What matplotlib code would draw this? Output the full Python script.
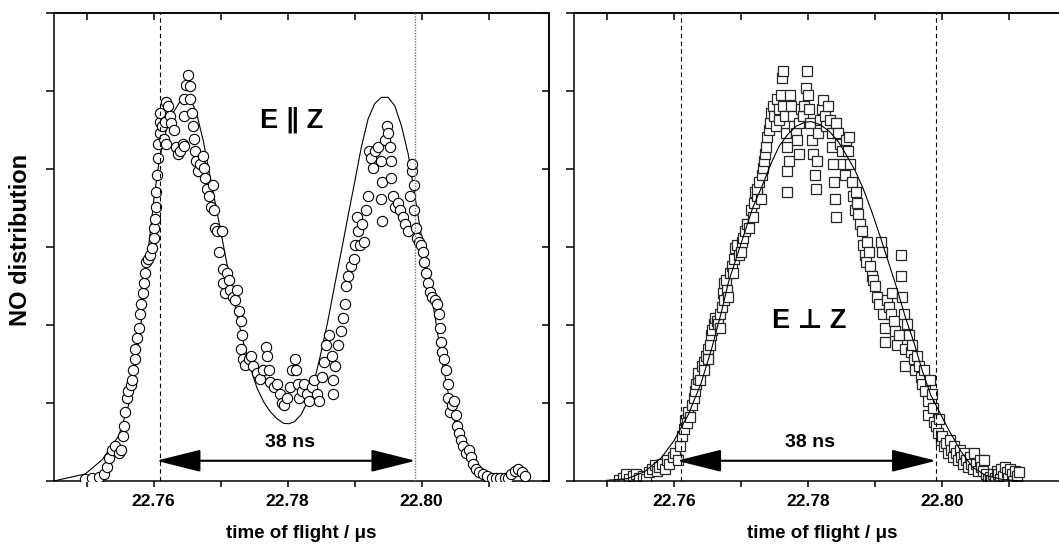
import matplotlib
matplotlib.use("Agg")
import matplotlib.pyplot as plt
from matplotlib.ticker import MultipleLocator, FormatStrFormatter

# E parallel Z: measured points (time of flight / us, signal)
par_points = [
    (22.7498, 0.02), (22.7508, 0.04), (22.7518, 0.05), (22.7526, 0.09), (22.7531, 0.18),
    (22.7534, 0.29), (22.7538, 0.40), (22.7543, 0.45), (22.7548, 0.36), (22.7552, 0.40),
    (22.7554, 0.58), (22.7556, 0.71), (22.7558, 0.89), (22.7560, 1.07), (22.7562, 1.16),
    (22.7566, 1.23), (22.7568, 1.29), (22.7570, 1.43), (22.7572, 1.56), (22.7573, 1.69),
    (22.7576, 1.83), (22.7578, 1.96), (22.7580, 2.14), (22.7582, 2.27), (22.7584, 2.41),
    (22.7585, 2.54), (22.7587, 2.67), (22.7588, 2.81), (22.7591, 2.85), (22.7594, 2.90),
    (22.7597, 2.99), (22.7600, 3.12), (22.7601, 3.25), (22.7602, 3.36), (22.7604, 3.52),
    (22.7604, 3.70), (22.7605, 3.92), (22.7606, 4.14), (22.7607, 4.32), (22.7609, 4.46),
    (22.7609, 4.61), (22.7610, 4.72), (22.7613, 4.55), (22.7615, 4.39), (22.7618, 4.32),
    (22.7617, 4.61), (22.7619, 4.86), (22.7621, 4.81), (22.7624, 4.68), (22.7626, 4.59),
    (22.7630, 4.50), (22.7634, 4.28), (22.7636, 4.19), (22.7640, 4.23), (22.7644, 4.32),
    (22.7646, 4.30), (22.7645, 4.68), (22.7646, 4.90), (22.7649, 5.08), (22.7651, 5.21),
    (22.7654, 5.06), (22.7655, 4.90), (22.7658, 4.72), (22.7659, 4.55), (22.7660, 4.39),
    (22.7662, 4.23), (22.7664, 4.10), (22.7666, 3.97), (22.7670, 4.06), (22.7674, 4.17),
    (22.7675, 4.01), (22.7677, 3.88), (22.7680, 3.74), (22.7683, 3.65), (22.7685, 3.52),
    (22.7688, 3.79), (22.7690, 3.48), (22.7692, 3.25), (22.7695, 3.21), (22.7698, 2.94),
    (22.7702, 3.21), (22.7703, 2.72), (22.7704, 2.54), (22.7707, 2.41), (22.7709, 2.67),
    (22.7712, 2.58), (22.7714, 2.45), (22.7718, 2.36), (22.7722, 2.32), (22.7724, 2.45),
    (22.7728, 2.18), (22.7731, 2.05), (22.7732, 1.87), (22.7730, 1.69), (22.7733, 1.56),
    (22.7737, 1.49), (22.7742, 1.56), (22.7745, 1.60), (22.7749, 1.47), (22.7754, 1.38),
    (22.7759, 1.31), (22.7764, 1.43), (22.7768, 1.72), (22.7770, 1.60), (22.7772, 1.43),
    (22.7774, 1.27), (22.7779, 1.20), (22.7784, 1.25), (22.7788, 1.11), (22.7792, 1.00),
    (22.7795, 0.98), (22.7799, 1.07), (22.7804, 1.20), (22.7807, 1.43), (22.7811, 1.56),
    (22.7813, 1.43), (22.7815, 1.25), (22.7817, 1.07), (22.7821, 1.16), (22.7825, 1.25),
    (22.7829, 1.11), (22.7832, 1.02), (22.7836, 1.20), (22.7840, 1.29), (22.7844, 1.11),
    (22.7847, 1.02), (22.7851, 1.34), (22.7855, 1.52), (22.7858, 1.74), (22.7862, 1.87),
    (22.7866, 1.60), (22.7868, 1.29), (22.7867, 1.11), (22.7871, 1.47), (22.7875, 1.74),
    (22.7879, 1.92), (22.7882, 2.09), (22.7885, 2.27), (22.7887, 2.50), (22.7890, 2.63),
    (22.7895, 2.76), (22.7899, 2.85), (22.7901, 3.03), (22.7903, 3.39), (22.7905, 3.21),
    (22.7908, 3.03), (22.7911, 3.30), (22.7914, 3.07), (22.7917, 3.48), (22.7920, 3.65),
    (22.7921, 4.23), (22.7925, 4.14), (22.7928, 4.01), (22.7931, 4.23), (22.7935, 4.28),
    (22.7939, 4.10), (22.7941, 3.83), (22.7940, 3.61), (22.7941, 3.34), (22.7945, 4.37),
    (22.7948, 4.55), (22.7950, 4.46), (22.7953, 4.28), (22.7954, 4.10), (22.7955, 3.88),
    (22.7958, 3.65), (22.7960, 3.52), (22.7964, 3.57), (22.7968, 3.48), (22.7972, 3.39),
    (22.7975, 3.30), (22.7979, 3.21), (22.7982, 3.65), (22.7985, 3.97), (22.7986, 4.06),
    (22.7988, 3.79), (22.7989, 3.48), (22.7991, 3.25), (22.7993, 3.12), (22.7996, 3.07),
    (22.7999, 3.03), (22.8002, 2.94), (22.8004, 2.81), (22.8007, 2.67), (22.8010, 2.54),
    (22.8012, 2.43), (22.8016, 2.36), (22.8020, 2.32), (22.8023, 2.27), (22.8026, 2.14),
    (22.8027, 1.96), (22.8029, 1.78), (22.8031, 1.65), (22.8034, 1.56), (22.8037, 1.43),
    (22.8039, 1.25), (22.8040, 1.07), (22.8042, 0.89), (22.8046, 0.98), (22.8048, 1.02),
    (22.8051, 0.85), (22.8053, 0.71), (22.8056, 0.62), (22.8058, 0.53), (22.8062, 0.45),
    (22.8066, 0.36), (22.8070, 0.40), (22.8073, 0.31), (22.8077, 0.22), (22.8081, 0.16),
    (22.8086, 0.11), (22.8092, 0.09), (22.8098, 0.07), (22.8105, 0.04), (22.8111, 0.04),
    (22.8117, 0.04), (22.8124, 0.04), (22.8129, 0.04), (22.8134, 0.09), (22.8139, 0.13),
    (22.8144, 0.16), (22.8149, 0.11), (22.8154, 0.07),
]

par_fit = [
    (22.7451, 0.00), (22.7498, 0.09), (22.7523, 0.27), (22.7548, 0.58), (22.7563, 0.98),
    (22.7573, 1.47), (22.7583, 2.14), (22.7593, 3.03), (22.7601, 3.65), (22.7609, 4.14),
    (22.7619, 4.50), (22.7629, 4.72), (22.7639, 4.86), (22.7649, 4.90), (22.7656, 4.88),
    (22.7664, 4.72), (22.7674, 4.37), (22.7684, 3.92), (22.7694, 3.48), (22.7704, 3.03),
    (22.7714, 2.58), (22.7724, 2.14), (22.7734, 1.78), (22.7744, 1.47), (22.7754, 1.20),
    (22.7764, 1.02), (22.7774, 0.89), (22.7784, 0.80), (22.7794, 0.74), (22.7802, 0.735),
    (22.7810, 0.76), (22.7820, 0.85), (22.7830, 1.02), (22.7840, 1.29), (22.7850, 1.65),
    (22.7860, 2.05), (22.7870, 2.50), (22.7880, 2.94), (22.7890, 3.39), (22.7900, 3.83),
    (22.7910, 4.28), (22.7920, 4.64), (22.7930, 4.84), (22.7940, 4.92), (22.7950, 4.92),
    (22.7960, 4.81), (22.7970, 4.55), (22.7980, 4.19), (22.7990, 3.65), (22.8000, 3.12),
    (22.8011, 2.58), (22.8021, 2.05), (22.8031, 1.51), (22.8041, 1.07), (22.8051, 0.71),
    (22.8061, 0.45), (22.8071, 0.27), (22.8086, 0.11), (22.8101, 0.04), (22.8116, 0.01),
]

# E perpendicular Z
perp_points = [
    (22.7518, 0.01), (22.7523, 0.04), (22.7528, 0.09), (22.7533, 0.02), (22.7538, 0.07),
    (22.7543, 0.09), (22.7548, 0.04), (22.7553, 0.07), (22.7558, 0.02), (22.7563, 0.11),
    (22.7567, 0.16), (22.7571, 0.20), (22.7575, 0.13), (22.7578, 0.18), (22.7582, 0.22),
    (22.7586, 0.16), (22.7590, 0.27), (22.7593, 0.22), (22.7598, 0.31), (22.7602, 0.36),
    (22.7605, 0.27), (22.7609, 0.45), (22.7611, 0.58), (22.7614, 0.67), (22.7616, 0.78),
    (22.7619, 0.74), (22.7621, 0.89), (22.7624, 0.82), (22.7626, 0.98), (22.7629, 1.07),
    (22.7631, 1.16), (22.7633, 1.25), (22.7635, 1.31), (22.7636, 1.38), (22.7639, 1.29),
    (22.7641, 1.47), (22.7644, 1.52), (22.7645, 1.43), (22.7647, 1.60), (22.7650, 1.69),
    (22.7651, 1.56), (22.7654, 1.74), (22.7655, 1.87), (22.7656, 1.94), (22.7659, 2.01),
    (22.7661, 2.09), (22.7664, 2.05), (22.7666, 2.01), (22.7668, 2.14), (22.7669, 1.96),
    (22.7671, 2.23), (22.7673, 2.41), (22.7674, 2.32), (22.7675, 2.54), (22.7677, 2.58),
    (22.7679, 2.45), (22.7681, 2.36), (22.7684, 2.67), (22.7686, 2.76), (22.7688, 2.67),
    (22.7690, 2.85), (22.7691, 2.99), (22.7694, 3.03), (22.7696, 2.90), (22.7699, 2.94),
    (22.7701, 3.07), (22.7703, 3.12), (22.7706, 3.21), (22.7709, 3.30), (22.7712, 3.25),
    (22.7714, 3.48), (22.7717, 3.39), (22.7719, 3.57), (22.7721, 3.70), (22.7723, 3.65),
    (22.7724, 3.74), (22.7727, 3.83), (22.7729, 3.61), (22.7731, 3.92), (22.7733, 4.01),
    (22.7734, 4.10), (22.7736, 4.19), (22.7737, 4.28), (22.7739, 4.41), (22.7741, 4.50),
    (22.7743, 4.59), (22.7744, 4.72), (22.7747, 4.81), (22.7749, 4.68), (22.7752, 4.55),
    (22.7753, 4.90), (22.7756, 4.77), (22.7757, 4.63), (22.7759, 4.95), (22.7761, 5.17),
    (22.7762, 5.26), (22.7763, 4.81), (22.7765, 4.68), (22.7767, 4.46), (22.7768, 4.28),
    (22.7769, 3.97), (22.7769, 3.70), (22.7771, 4.10), (22.7773, 4.95), (22.7774, 4.81),
    (22.7777, 4.68), (22.7779, 4.55), (22.7782, 4.46), (22.7784, 4.37), (22.7786, 4.19),
    (22.7787, 4.59), (22.7789, 4.77), (22.7792, 4.68), (22.7794, 4.81), (22.7797, 5.04),
    (22.7798, 5.26), (22.7800, 4.95), (22.7801, 4.77), (22.7803, 4.59), (22.7805, 4.37),
    (22.7807, 4.19), (22.7810, 3.92), (22.7812, 3.74), (22.7813, 4.10), (22.7815, 4.46),
    (22.7817, 4.63), (22.7820, 4.77), (22.7822, 4.88), (22.7825, 4.68), (22.7827, 4.55),
    (22.7830, 4.81), (22.7832, 4.63), (22.7835, 4.46), (22.7836, 4.28), (22.7837, 4.06),
    (22.7839, 3.83), (22.7840, 3.61), (22.7841, 3.39), (22.7842, 4.59), (22.7845, 4.46),
    (22.7847, 4.32), (22.7850, 4.23), (22.7852, 4.06), (22.7855, 3.92), (22.7857, 4.37),
    (22.7860, 4.23), (22.7861, 4.41), (22.7863, 4.06), (22.7865, 3.83), (22.7867, 3.65),
    (22.7870, 3.48), (22.7871, 3.70), (22.7873, 3.57), (22.7875, 3.43), (22.7877, 3.30),
    (22.7880, 3.21), (22.7882, 3.03), (22.7884, 2.90), (22.7886, 2.81), (22.7887, 3.07),
    (22.7890, 2.94), (22.7892, 2.76), (22.7895, 2.63), (22.7897, 2.58), (22.7900, 2.50),
    (22.7902, 2.36), (22.7905, 2.27), (22.7908, 3.07), (22.7910, 2.94), (22.7912, 2.14),
    (22.7914, 1.78), (22.7915, 1.96), (22.7918, 2.32), (22.7920, 2.23), (22.7923, 2.14),
    (22.7925, 2.41), (22.7928, 2.05), (22.7930, 1.92), (22.7933, 1.74), (22.7935, 1.87),
    (22.7938, 2.90), (22.7939, 2.63), (22.7940, 2.36), (22.7943, 2.14), (22.7944, 1.47),
    (22.7945, 1.69), (22.7948, 2.01), (22.7950, 1.87), (22.7953, 1.65), (22.7955, 1.74),
    (22.7958, 1.56), (22.7960, 1.43), (22.7963, 1.60), (22.7965, 1.47), (22.7968, 1.34),
    (22.7970, 1.25), (22.7973, 1.43), (22.7975, 1.16), (22.7978, 1.02), (22.7979, 0.85),
    (22.7982, 1.29), (22.7984, 1.11), (22.7986, 0.94), (22.7988, 0.76), (22.7990, 0.71),
    (22.7993, 0.62), (22.7995, 0.80), (22.7998, 0.53), (22.8000, 0.58), (22.8003, 0.45),
    (22.8006, 0.49), (22.8008, 0.36), (22.8011, 0.53), (22.8013, 0.40), (22.8016, 0.31),
    (22.8018, 0.45), (22.8021, 0.36), (22.8023, 0.27), (22.8026, 0.40), (22.8028, 0.31),
    (22.8031, 0.22), (22.8033, 0.36), (22.8036, 0.27), (22.8038, 0.18), (22.8041, 0.31),
    (22.8043, 0.22), (22.8046, 0.16), (22.8048, 0.36), (22.8051, 0.22), (22.8053, 0.13),
    (22.8056, 0.27), (22.8058, 0.18), (22.8061, 0.13), (22.8063, 0.27), (22.8066, 0.09),
    (22.8068, 0.02), (22.8071, 0.05), (22.8073, 0.01), (22.8076, 0.09), (22.8078, 0.04),
    (22.8081, 0.13), (22.8083, 0.09), (22.8086, 0.02), (22.8088, 0.16), (22.8091, 0.07),
    (22.8093, 0.18), (22.8096, 0.11), (22.8098, 0.04), (22.8101, 0.16), (22.8104, 0.09),
    (22.8106, 0.00), (22.8109, 0.13), (22.8111, 0.07), (22.8114, 0.11),
]

perp_fit = [
    (22.7500, 0.01), (22.7530, 0.03), (22.7556, 0.12), (22.7581, 0.30), (22.7600, 0.52),
    (22.7621, 0.85), (22.7640, 1.25), (22.7656, 1.70), (22.7670, 2.15), (22.7681, 2.55),
    (22.7700, 3.05), (22.7717, 3.50), (22.7732, 3.80), (22.7745, 4.08), (22.7757, 4.30),
    (22.7770, 4.45), (22.7782, 4.55), (22.7795, 4.60), (22.7804, 4.61), (22.7818, 4.57),
    (22.7832, 4.48), (22.7845, 4.35), (22.7857, 4.18), (22.7870, 3.98), (22.7882, 3.75),
    (22.7895, 3.45), (22.7908, 3.12), (22.7920, 2.80), (22.7933, 2.45), (22.7945, 2.10),
    (22.7958, 1.77), (22.7970, 1.42), (22.7983, 1.10), (22.7998, 0.85), (22.8010, 0.65),
    (22.8028, 0.38), (22.8045, 0.18), (22.8065, 0.07), (22.8090, 0.02), (22.8120, 0.00),
]

window = (22.761, 22.799)
width_label = "38 ns"

plt.rcParams["font.family"] = ["Liberation Sans", "DejaVu Sans"]
plt.rcParams["font.weight"] = "bold"
plt.rcParams["axes.linewidth"] = 1.1


def style_axes(ax):
    ax.set_xlim(22.7451, 22.819)
    ax.set_ylim(0, 6)
    ax.xaxis.set_major_locator(MultipleLocator(0.02))
    ax.xaxis.set_minor_locator(MultipleLocator(0.01))
    ax.xaxis.set_major_formatter(FormatStrFormatter("%.2f"))
    ax.yaxis.set_major_locator(MultipleLocator(1))
    ax.tick_params(axis="x", which="both", direction="out", length=4, width=1.1,
                   labelsize=12.5, pad=5)
    ax.tick_params(axis="y", direction="out", length=6, width=1.1, labelleft=False)
    top = ax.secondary_xaxis("top")
    top.xaxis.set_major_locator(MultipleLocator(0.01))
    top.tick_params(axis="x", direction="in", length=5, width=1.1, labeltop=False)
    right = ax.secondary_yaxis("right")
    right.yaxis.set_major_locator(MultipleLocator(1))
    right.tick_params(axis="y", direction="in", length=5, width=1.1, labelright=False)
    ax.set_xlabel("time of flight / \u03bcs", fontsize=13.5, fontweight="bold", labelpad=12)


def draw_window(ax, right_style):
    ax.axvline(window[0], color="k", lw=0.8, ls=(0, (4, 3)), zorder=4)
    ax.axvline(window[1], **right_style)
    ax.annotate("", xy=(window[0] - 0.0006, 0.26), xytext=(window[1] + 0.0001, 0.26),
                arrowprops=dict(arrowstyle="<|-|>,head_length=2.8,head_width=0.7",
                                mutation_scale=10, lw=1.5, color="k",
                                shrinkA=0, shrinkB=0))
    ax.text(22.7803, 0.49, width_label, ha="center", va="center",
            fontsize=14, fontweight="bold")


fig = plt.figure(figsize=(10.59, 5.46), dpi=100)
ax1 = fig.add_axes([0.0507, 0.119, 0.4677, 0.857])
ax2 = fig.add_axes([0.5423, 0.119, 0.4677, 0.857])

pt, py = zip(*par_points)
ft, fy = zip(*par_fit)
ax1.plot(ft, fy, color="k", lw=0.8, zorder=2)
ax1.plot(pt, py, ls="none", marker="o", ms=7.4, mfc="white", mec="k", mew=0.8, zorder=3)
draw_window(ax1, dict(color="0.45", lw=1.0, ls=(0, (1, 1)), zorder=4))
ax1.text(22.7806, 4.62, "E \u2225 Z", ha="center", va="center", fontsize=19.5,
         fontweight="bold")
style_axes(ax1)

qt, qy = zip(*perp_points)
gt, gy = zip(*perp_fit)
ax2.plot(qt, qy, ls="none", marker="s", ms=6.6, mfc="white", mec="0.15", mew=0.9, zorder=2)
ax2.plot(gt, gy, color="k", lw=0.8, zorder=3)
draw_window(ax2, dict(color="k", lw=0.8, ls=(0, (4, 3)), zorder=4))
ax2.text(22.7802, 2.05, "E \u22a5 Z", ha="center", va="center", fontsize=19.5,
         fontweight="bold")
style_axes(ax2)

fig.text(21 / 1059, 0.56, "NO distribution", rotation=90, ha="center", va="center",
         fontsize=17, fontweight="bold")

fig.savefig("out.png", dpi=100)
